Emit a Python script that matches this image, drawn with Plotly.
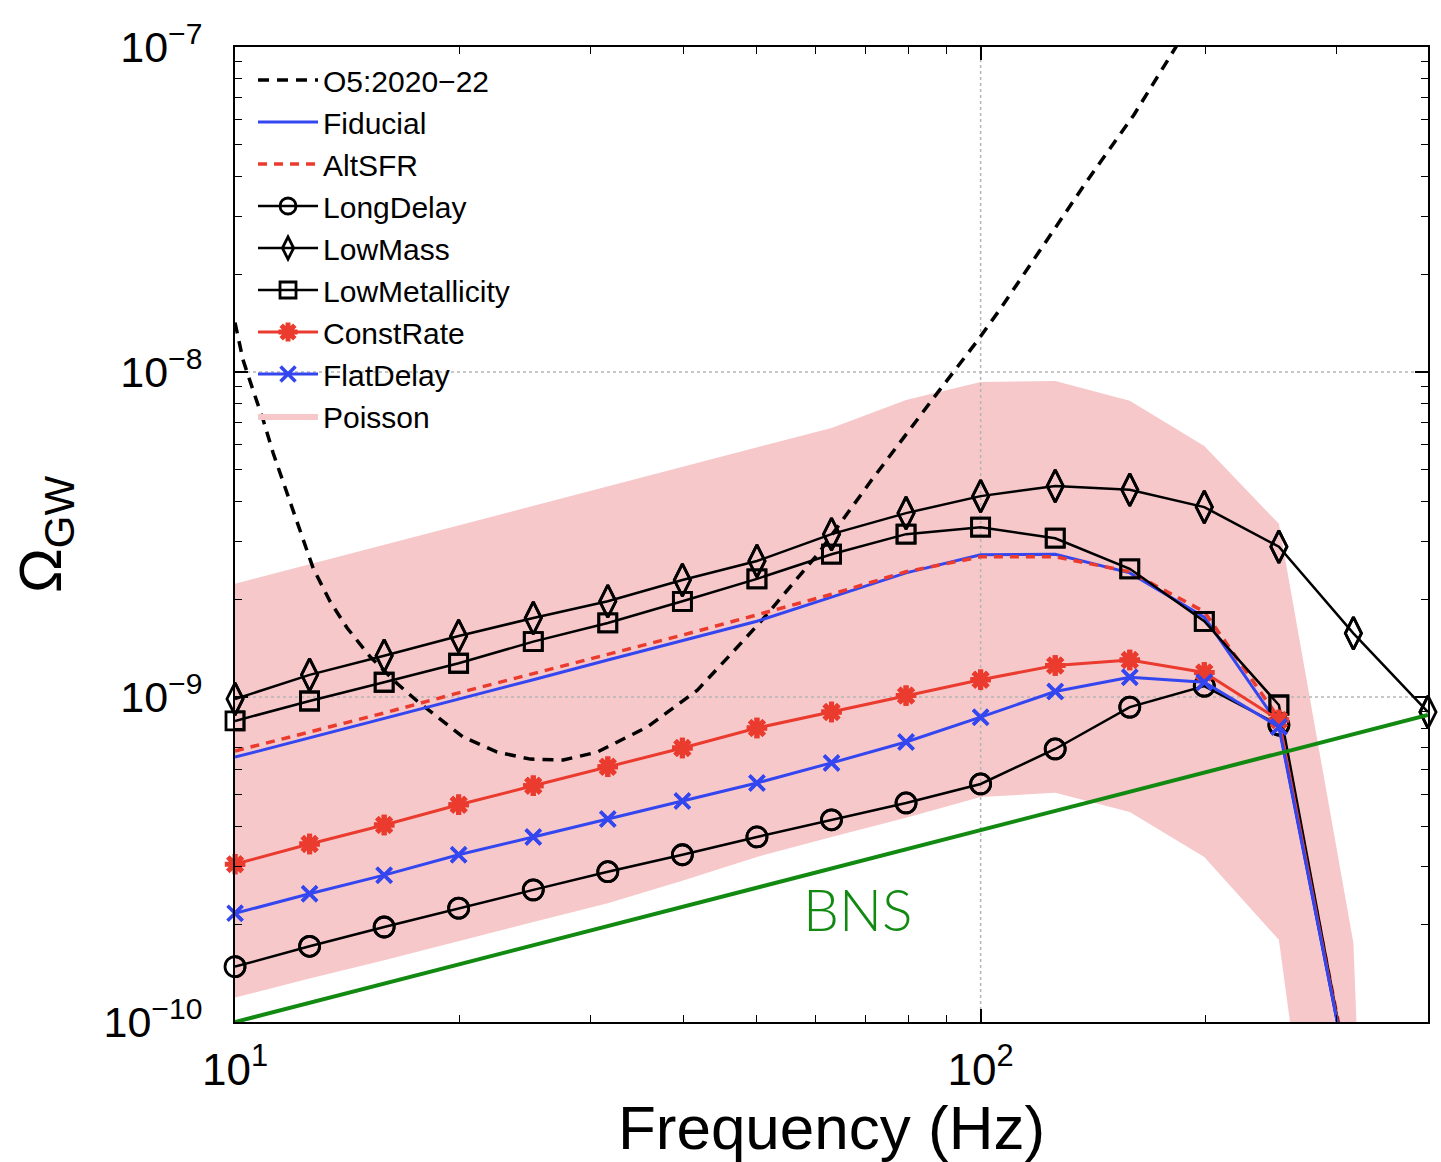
import numpy as np
import plotly.graph_objects as go

# ---------------- data ----------------
freq = [10.0, 12.59, 15.85, 19.95, 25.12, 31.62, 39.81, 50.12, 63.10, 79.43,
        100.0, 125.9, 158.5, 199.5, 251.2, 316.2, 398.1]

fiducial = [6.53e-10, 7.48e-10, 8.61e-10, 9.86e-10, 1.13e-9, 1.30e-9, 1.49e-9, 1.71e-9,
            2.03e-9, 2.41e-9, 2.74e-9, 2.75e-9, 2.41e-9, 1.76e-9, 8.20e-10, 5.6e-11, 1e-12]
altsfr = [6.82e-10, 7.80e-10, 8.93e-10, 1.03e-9, 1.18e-9, 1.36e-9, 1.55e-9, 1.79e-9,
          2.07e-9, 2.43e-9, 2.70e-9, 2.70e-9, 2.43e-9, 1.83e-9, 8.61e-10, 5.8e-11, 1e-12]
longdelay = [1.48e-10, 1.71e-10, 1.96e-10, 2.24e-10, 2.55e-10, 2.90e-10, 3.27e-10, 3.71e-10,
             4.19e-10, 4.72e-10, 5.40e-10, 6.92e-10, 9.31e-10, 1.08e-9, 8.20e-10, 5.6e-11, 1e-12]
lowmass = [9.86e-10, 1.17e-9, 1.34e-9, 1.54e-9, 1.75e-9, 1.97e-9, 2.29e-9, 2.62e-9,
           3.17e-9, 3.68e-9, 4.15e-9, 4.46e-9, 4.34e-9, 3.84e-9, 2.90e-9, 1.57e-9, 8.99e-10]
lowmetal = [8.44e-10, 9.72e-10, 1.11e-9, 1.27e-9, 1.48e-9, 1.69e-9, 1.97e-9, 2.31e-9,
            2.75e-9, 3.17e-9, 3.33e-9, 3.08e-9, 2.48e-9, 1.71e-9, 9.45e-10, 5.6e-11, 1e-12]
constrate = [3.06e-10, 3.53e-10, 4.04e-10, 4.66e-10, 5.33e-10, 6.10e-10, 6.97e-10, 8.03e-10,
             8.99e-10, 1.01e-9, 1.13e-9, 1.25e-9, 1.30e-9, 1.19e-9, 8.50e-10, 5.6e-11, 1e-12]
flatdelay = [2.16e-10, 2.48e-10, 2.83e-10, 3.27e-10, 3.71e-10, 4.21e-10, 4.79e-10, 5.44e-10,
             6.27e-10, 7.27e-10, 8.67e-10, 1.04e-9, 1.15e-9, 1.11e-9, 8.09e-10, 5.6e-11, 1e-12]

poisson_upper = [2.23e-9, 2.56e-9, 2.94e-9, 3.38e-9, 3.87e-9, 4.46e-9, 5.10e-9, 5.87e-9,
                 6.73e-9, 8.20e-9, 9.31e-9, 9.38e-9, 8.15e-9, 5.92e-9, 3.41e-9, 1.75e-10, 1.7e-16]
poisson_lower = [1.19e-10, 1.36e-10, 1.55e-10, 1.77e-10, 2.03e-10, 2.32e-10, 2.72e-10, 3.22e-10,
                 3.71e-10, 4.25e-10, 4.92e-10, 5.07e-10, 4.43e-10, 3.22e-10, 1.79e-10, 3.6e-12, 1e-20]

o5_freq = [10.0, 10.25, 10.57, 10.91, 11.25, 11.74, 12.22, 12.73, 13.41, 14.14, 15.18, 16.50,
           17.55, 20.23, 22.47, 24.89, 27.56, 30.61, 35.73, 41.70, 46.18, 50.98, 60.62,
           71.41, 86.48, 99.08, 106.4, 121.5, 139.2, 160.5, 182.7, 197.4]
o5_omega = [1.42e-8, 1.09e-8, 8.81e-9, 7.12e-9, 5.63e-9, 4.25e-9, 3.22e-9, 2.49e-9, 1.97e-9,
            1.63e-9, 1.33e-9, 1.10e-9, 9.72e-10, 7.53e-10, 6.77e-10, 6.44e-10, 6.40e-10,
            6.77e-10, 8.09e-10, 1.05e-9, 1.35e-9, 1.73e-9, 2.77e-9, 4.65e-9, 8.32e-9,
            1.25e-8, 1.57e-8, 2.46e-8, 3.90e-8, 6.18e-8, 1.0e-7, 1.33e-7]

bns_freq = [10.0, 398.1]
bns_omega = [1.0e-10, 8.8e-10]
bns_label = "BNS"
bns_label_pos = (68.4, 2.22e-10)

x_tickvals = [10, 100]
x_ticktext = ["10<sup>1</sup>", "10<sup>2</sup>"]
y_tickvals = [1e-10, 1e-9, 1e-8, 1e-7]
y_ticktext = ["10<sup>−10</sup>", "10<sup>−9</sup>", "10<sup>−8</sup>", "10<sup>−7</sup>"]
x_range = (10.0, 398.1)
y_range = (1e-10, 1e-7)

x_title = "Frequency (Hz)"
y_title = "Ω<sub>GW</sub>"

# ---------------- styles ----------------
BLACK = "#000000"
BLUE = "#3346f0"
RED = "#ea3b2e"
GREEN = "#128a12"
PINK = "#f6c8ca"
GRID = "#b5b5b5"
FONT = "Liberation Sans, Arial, Helvetica, sans-serif"


def in_range(xs, ys):
    """Keep only the points inside the visible y range (for unclipped markers)."""
    pts = [(x, y) for x, y in zip(xs, ys) if y >= y_range[0]]
    return [p[0] for p in pts], [p[1] for p in pts]


fig = go.Figure()

# Poisson band
fig.add_trace(go.Scatter(
    x=freq + freq[::-1], y=poisson_upper + poisson_lower[::-1],
    fill="toself", fillcolor=PINK, line=dict(width=0, color=PINK),
    mode="lines", name="Poisson", legendrank=9, hoverinfo="skip"))

# dotted grid drawn over the band (as in the reference)
for yv in y_tickvals[1:-1]:
    fig.add_trace(go.Scatter(x=list(x_range), y=[yv, yv], mode="lines", showlegend=False,
                             hoverinfo="skip", line=dict(color=GRID, width=1.5, dash="dot")))
for xv in x_tickvals[1:]:
    fig.add_trace(go.Scatter(x=[xv, xv], y=list(y_range), mode="lines", showlegend=False,
                             hoverinfo="skip", line=dict(color=GRID, width=1.5, dash="dot")))

fig.add_trace(go.Scatter(x=o5_freq, y=o5_omega, mode="lines", name="O5:2020−22",
                         line=dict(color=BLACK, width=3.5, dash="11px,8px"), legendrank=1))
fig.add_trace(go.Scatter(x=freq, y=fiducial, mode="lines", name="Fiducial",
                         line=dict(color=BLUE, width=3), legendrank=2))
fig.add_trace(go.Scatter(x=freq, y=altsfr, mode="lines", name="AltSFR",
                         line=dict(color=RED, width=3.5, dash="9px,7px"), legendrank=3))

series = [
    ("LongDelay", longdelay, BLACK, "circle-open", 20, 2.8, 2.5, 4),
    ("LowMass", lowmass, BLACK, "diamond-tall-open", 23, 2.8, 2.5, 5),
    ("LowMetallicity", lowmetal, BLACK, "square-open", 18, 2.8, 2.5, 6),
    ("ConstRate", constrate, RED, "asterisk-open", 17, 5, 3, 7),
    ("FlatDelay", flatdelay, BLUE, "x-thin-open", 15, 3.5, 3, 8),
]
for name, vals, col, sym, size, mlw, lw, rank in series:
    # line (clipped to the axes) carrying the legend entry
    fig.add_trace(go.Scatter(x=freq, y=vals, mode="lines+markers", name=name,
                             legendgroup=name, legendrank=rank,
                             line=dict(color=col, width=lw),
                             marker=dict(symbol=sym, size=size, color=col,
                                         line=dict(width=mlw, color=col))))
    # markers drawn unclipped at the frame edges, as in the reference
    mx, my = in_range(freq, vals)
    fig.add_trace(go.Scatter(x=mx, y=my, mode="markers", showlegend=False,
                             legendgroup=name, cliponaxis=False, hoverinfo="skip",
                             marker=dict(symbol=sym, size=size, color=col,
                                         line=dict(width=mlw, color=col))))

fig.add_trace(go.Scatter(x=bns_freq, y=bns_omega, mode="lines", showlegend=False,
                         line=dict(color=GREEN, width=4), hoverinfo="skip"))

fig.add_annotation(x=np.log10(bns_label_pos[0]), y=np.log10(bns_label_pos[1]),
                   xref="x", yref="y", text=bns_label, showarrow=False,
                   font=dict(family="Lato, sans-serif", size=57, color=GREEN, weight=300))

axis_common = dict(
    type="log", showline=True, linecolor=BLACK, linewidth=2, mirror="allticks",
    ticks="inside", ticklen=13, tickwidth=1.5, tickcolor=BLACK,
    showgrid=False, zeroline=False, automargin=False,
    minor=dict(ticks="inside", ticklen=7, tickwidth=1.2, tickcolor=BLACK,
               dtick="D1", showgrid=False),
)

fig.update_xaxes(**axis_common, range=[np.log10(x_range[0]), np.log10(x_range[1])],
                 tickmode="array", tickvals=x_tickvals, ticktext=x_ticktext,
                 tickfont=dict(family=FONT, size=44, color=BLACK),
                 ticklabelstandoff=8,
                 title=dict(text=x_title, font=dict(family=FONT, size=62, color=BLACK),
                            standoff=2))
fig.update_yaxes(**axis_common, range=[np.log10(y_range[0]), np.log10(y_range[1])],
                 tickmode="array", tickvals=y_tickvals, ticktext=y_ticktext,
                 tickfont=dict(family=FONT, size=43, color=BLACK),
                 ticklabelstandoff=22,
                 title=dict(text=y_title, font=dict(family=FONT, size=60, color=BLACK),
                            standoff=22))

fig.update_layout(
    width=1441, height=1162,
    margin=dict(l=235, r=13, t=47, b=140),
    paper_bgcolor="white", plot_bgcolor="white",
    showlegend=True,
    legend=dict(x=0.0151, y=0.9928, xanchor="left", yanchor="top",
                bgcolor="rgba(0,0,0,0)", borderwidth=0,
                font=dict(family=FONT, size=30, color=BLACK),
                itemwidth=60, tracegroupgap=0),
)

fig.write_html("out.html")
